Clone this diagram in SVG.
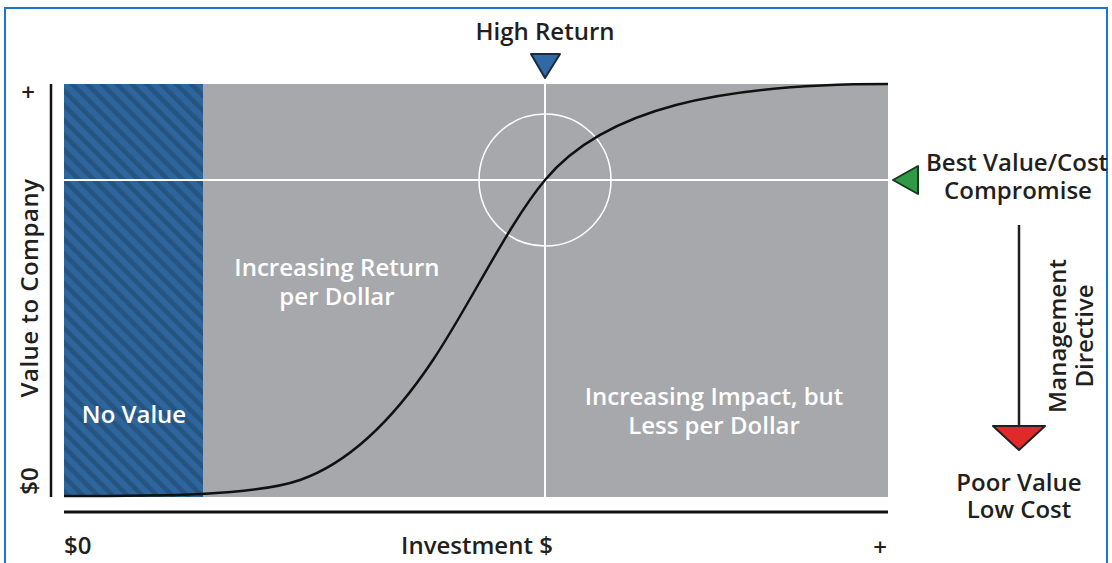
<svg xmlns="http://www.w3.org/2000/svg" width="1112" height="563" viewBox="0 0 1112 563">
<style>
.t{font-family:"Open Sans","Liberation Sans",sans-serif;font-size:24px;fill:#231f20;font-weight:600}
.w{fill:#ffffff}
.m{text-anchor:middle}
</style>
<defs>
<pattern id="hatch" width="10.5" height="10.5" patternUnits="userSpaceOnUse" patternTransform="rotate(-45)">
<rect width="10.5" height="10.5" fill="#2d659c"/>
<rect width="4.5" height="10.5" fill="#24547f"/>
</pattern>
</defs>
<rect width="1112" height="563" fill="#ffffff"/>
<rect x="5" y="8" width="1102" height="570" fill="none" stroke="#1a75cf" stroke-width="2"/>
<g id="plot">
<rect x="64" y="84" width="824" height="413" fill="#a7a8ab"/>
<rect x="64" y="84" width="139" height="413" fill="url(#hatch)"/>
<line x1="64" y1="180" x2="888" y2="180" stroke="#ffffff" stroke-width="2"/>
<line x1="545" y1="78" x2="545" y2="497" stroke="#ffffff" stroke-width="2"/>
<circle cx="545" cy="180" r="66" fill="none" stroke="#ffffff" stroke-width="1.5"/>
<path d="M64,496 C160,496 255,495.75 300,480 C345,464.25 388,427.5 433,360 C470,304.5 508,224.4 545,180 C605,108 720,84 888,84" fill="none" stroke="#111111" stroke-width="2.5"/>
</g>
<g id="axes">
<line x1="51" y1="84" x2="51" y2="497" stroke="#111111" stroke-width="2.5"/>
<line x1="64" y1="512" x2="888" y2="512" stroke="#111111" stroke-width="3"/>
<text class="t m" x="28" y="101" font-size="26" font-weight="400">+</text>
<text class="t m" transform="translate(38,288) rotate(-90)" letter-spacing="0.5">Value to Company</text>
<text class="t m" transform="translate(38,481) rotate(-90)">$0</text>
<text class="t" x="64" y="554">$0</text>
<text class="t m" x="477" y="554">Investment $</text>
<text class="t m" x="880" y="556" font-size="26" font-weight="400">+</text>
</g>
<g id="labels">
<text class="t w m" x="134" y="423">No Value</text>
<text class="t w m" x="337" y="276">Increasing Return</text>
<text class="t w m" x="337" y="305">per Dollar</text>
<text class="t w m" x="714" y="405">Increasing Impact, but</text>
<text class="t w m" x="714" y="434">Less per Dollar</text>
</g>
<g id="high-return">
<text class="t m" x="545" y="40">High Return</text>
<polygon points="531,54 560,54 545,78" fill="#2f6aa6" stroke="#1b2b3b" stroke-width="2" stroke-linejoin="round"/>
</g>
<g id="best-value">
<polygon points="893,180 918,166 918,194" fill="#2f9a45" stroke="#173a1f" stroke-width="2" stroke-linejoin="round"/>
<text class="t" x="926" y="171">Best Value/Cost</text>
<text class="t m" x="1018" y="199">Compromise</text>
</g>
<g id="connectors">
<line x1="1019" y1="225" x2="1019" y2="426" stroke="#231f20" stroke-width="2.5"/>
</g>
<g id="poor-value">
<polygon points="993,426 1045,426 1019,450" fill="#e02a2a" stroke="#231f20" stroke-width="2" stroke-linejoin="round"/>
<text class="t m" transform="translate(1066,336) rotate(-90)">Management</text>
<text class="t m" transform="translate(1093,336) rotate(-90)">Directive</text>
<text class="t m" x="1019" y="491">Poor Value</text>
<text class="t m" x="1019" y="518">Low Cost</text>
</g>
</svg>
